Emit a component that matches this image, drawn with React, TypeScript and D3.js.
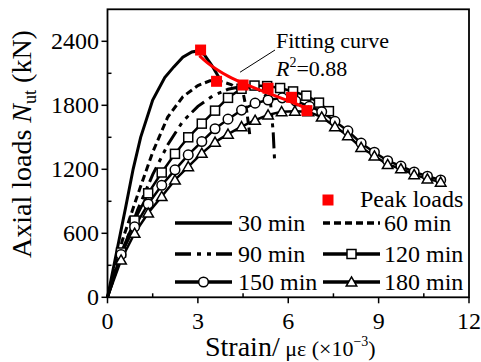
import React from "react";
import * as d3 from "d3";

const strain30 = [0, 0.3, 0.6, 0.85, 1.1, 1.5, 1.9, 2.2, 2.5, 2.8, 3.0, 3.2, 3.45, 3.7];
const load30 = [0, 420, 840, 1200, 1500, 1850, 2060, 2160, 2250, 2300, 2310, 2280, 2180, 2060];

const strain60 = [0, 0.5, 1.0, 1.5, 2.0, 2.5, 3.0, 3.4, 3.7, 4.1, 4.5, 4.62, 4.72];
const load60 = [0, 540, 960, 1360, 1690, 1880, 1985, 2030, 2030, 1995, 1920, 1750, 1530];

const strain90 = [0, 0.5, 1.0, 1.5, 2.0, 2.5, 3.0, 3.5, 4.0, 4.5, 5.0, 5.4, 5.5, 5.55];
const load90 = [0, 430, 820, 1150, 1430, 1650, 1790, 1890, 1950, 1980, 1950, 1860, 1550, 1260];

const strain120 = [0, 0.45, 0.9, 1.35, 1.8, 2.24, 2.68, 3.13, 3.57, 4.0, 4.45, 4.88, 5.3, 5.73, 6.16, 6.6, 7.02, 7.35];
const load120 = [0, 420, 720, 975, 1170, 1345, 1500, 1628, 1750, 1870, 1955, 1985, 1980, 1962, 1930, 1890, 1825, 1745];

const strain150 = [0, 0.45, 0.9, 1.35, 1.8, 2.24, 2.68, 3.13, 3.57, 4.0, 4.45, 4.9, 5.33, 5.8, 6.25, 6.7, 7.11, 7.55, 7.98, 8.42, 8.86, 9.3, 9.74, 10.18, 10.62, 11.06];
const load150 = [0, 400, 660, 875, 1050, 1195, 1335, 1460, 1580, 1670, 1755, 1820, 1850, 1870, 1840, 1790, 1740, 1650, 1560, 1445, 1360, 1280, 1230, 1175, 1135, 1100];

const strain180 = [0, 0.45, 0.9, 1.35, 1.8, 2.24, 2.68, 3.13, 3.57, 4.0, 4.45, 4.9, 5.33, 5.78, 6.22, 6.67, 7.11, 7.55, 7.98, 8.42, 8.86, 9.3, 9.74, 10.18, 10.62, 11.06];
const load180 = [0, 350, 600, 790, 945, 1100, 1225, 1350, 1455, 1530, 1600, 1660, 1710, 1740, 1745, 1740, 1690, 1600, 1515, 1405, 1325, 1245, 1205, 1150, 1110, 1080];

const peakStrain = [3.09, 3.62, 4.5, 5.33, 6.11, 6.62];
const peakLoad = [2318, 2025, 1990, 1960, 1875, 1750];

const fitStrain = [3.05, 3.3, 3.6, 4.0, 4.5, 5.3, 6.0, 6.72];
const fitLoad = [2265, 2200, 2140, 2070, 2005, 1915, 1845, 1760];

const xTicks = [0, 3, 6, 9, 12];
const xMinor = [1.5, 4.5, 7.5, 10.5];
const yTicks = [0, 600, 1200, 1800, 2400];
const yMinor = [300, 900, 1500, 2100];

const legendLabels = ["30 min", "60 min", "90 min", "120 min", "150 min", "180 min"];

const FONT = "Liberation Serif, Times New Roman, Times, serif";

export default function App() {
  const x = d3.scaleLinear().domain([0, 12]).range([107.5, 469]);
  const y = d3.scaleLinear().domain([0, 2700]).range([297.3, 9.3]);
  const zip = (a: number[], b: number[]) => a.map((v, i) => [v, b[i]] as [number, number]);
  const line = d3.line<[number, number]>().x((d) => x(d[0])).y((d) => y(d[1])).curve(d3.curveBasis);
  const lineLin = d3.line<[number, number]>().x((d) => x(d[0])).y((d) => y(d[1]));
  const tri = d3.symbol(d3.symbolTriangle, 48)() as string;

  const d30 = zip(strain30, load30);
  const d60 = zip(strain60, load60);
  const d90 = zip(strain90, load90);
  const d120 = zip(strain120, load120);
  const d150 = zip(strain150, load150);
  const d180 = zip(strain180, load180);
  const dPeak = zip(peakStrain, peakLoad);
  const dFit = zip(fitStrain, fitLoad);

  const dash60 = "7,4";
  const dash90 = "16,6,4,6,4,5";

  const sq = (cx: number, cy: number, s: number, key: any, fill = "#fff") => (
    <rect key={key} x={cx - s / 2} y={cy - s / 2} width={s} height={s} fill={fill} stroke="#000" strokeWidth={fill === "#fff" ? 1.5 : 0} />
  );

  const legRows = [223, 254, 282];
  const legL = [175, 232, 238];
  const legR = [323, 380, 384];

  return (
    <div style={{ position: "fixed", left: 0, top: 0 }}>
      <svg width={481} height={362} style={{ display: "block", background: "#fff", fontFamily: FONT }}>
        {/* curves */}
        <g fill="none" stroke="#000" strokeWidth={3}>
          <path d={lineLin(d30) as string} />
          <path d={lineLin(d60) as string} strokeDasharray={dash60} />
          <path d={lineLin(d90) as string} strokeDasharray={dash90} />
          <path d={lineLin(d120) as string} strokeWidth={2.5} />
          <path d={lineLin(d150) as string} strokeWidth={2.5} />
          <path d={lineLin(d180) as string} strokeWidth={2.5} />
        </g>
        {/* markers */}
        <g>
          {d120.slice(1).map((d, i) => sq(x(d[0]), y(d[1]), 9, "s" + i))}
          {d150.slice(1).map((d, i) => (
            <circle key={"c" + i} cx={x(d[0])} cy={y(d[1])} r={4.8} fill="#fff" stroke="#000" strokeWidth={1.5} />
          ))}
          {d180.slice(1).map((d, i) => (
            <path key={"t" + i} d={tri} transform={`translate(${x(d[0])},${y(d[1]) + 1})`} fill="#fff" stroke="#000" strokeWidth={1.5} />
          ))}
        </g>
        {/* fit */}
        <path d={line(dFit) as string} fill="none" stroke="#ff0000" strokeWidth={3} />
        {dPeak.map((d, i) => sq(x(d[0]), y(d[1]), 11, "p" + i, "#ff0000"))}
        {/* fit label */}
        <line x1={x(4.4)} y1={y(2110)} x2={275} y2={50} stroke="#000" strokeWidth={1} />
        <text x={276} y={48} fontSize={22} fill="#000">Fitting curve</text>
        <text x={276} y={76} fontSize={22} fill="#000">
          <tspan fontStyle="italic">R</tspan>
          <tspan fontSize={14} dy={-9}>2</tspan>
          <tspan dy={9}>=0.88</tspan>
        </text>

        {/* legend */}
        {sq(328, 200, 11, "lp", "#ff0000")}
        <text x={360} y={207} fontSize={24}>Peak loads</text>
        <g stroke="#000" strokeWidth={3.5} fill="none">
          <line x1={legL[0]} x2={legL[1]} y1={legRows[0]} y2={legRows[0]} />
          <line x1={legR[0]} x2={legR[1]} y1={legRows[0]} y2={legRows[0]} strokeDasharray={dash60} />
          <line x1={legL[0]} x2={legL[1]} y1={legRows[1]} y2={legRows[1]} strokeDasharray={dash90} />
          <line x1={legR[0]} x2={legR[1]} y1={legRows[1]} y2={legRows[1]} />
          <line x1={legL[0]} x2={legL[1]} y1={legRows[2]} y2={legRows[2]} />
          <line x1={legR[0]} x2={legR[1]} y1={legRows[2]} y2={legRows[2]} />
        </g>
        {sq((legR[0] + legR[1]) / 2, legRows[1], 9, "ls")}
        <circle cx={(legL[0] + legL[1]) / 2} cy={legRows[2]} r={4.8} fill="#fff" stroke="#000" strokeWidth={1.5} />
        <path d={tri} transform={`translate(${(legR[0] + legR[1]) / 2},${legRows[2] + 1})`} fill="#fff" stroke="#000" strokeWidth={1.5} />
        <g fontSize={24} fill="#000">
          <text x={legL[2]} y={legRows[0] + 8}>{legendLabels[0]}</text>
          <text x={legR[2]} y={legRows[0] + 8}>{legendLabels[1]}</text>
          <text x={legL[2]} y={legRows[1] + 8}>{legendLabels[2]}</text>
          <text x={legR[2]} y={legRows[1] + 8}>{legendLabels[3]}</text>
          <text x={legL[2]} y={legRows[2] + 8}>{legendLabels[4]}</text>
          <text x={legR[2]} y={legRows[2] + 8}>{legendLabels[5]}</text>
        </g>

        {/* frame */}
        <rect x={x(0)} y={y(2700)} width={x(12) - x(0)} height={y(0) - y(2700)} fill="none" stroke="#000" strokeWidth={1.8} />
        {/* ticks */}
        <g stroke="#000" strokeWidth={1.5}>
          {xTicks.map((t) => (
            <line key={"xt" + t} x1={x(t)} x2={x(t)} y1={y(0)} y2={y(0) + 6} />
          ))}
          {xMinor.map((t) => (
            <line key={"xm" + t} x1={x(t)} x2={x(t)} y1={y(0)} y2={y(0) - 4} />
          ))}
          {yTicks.map((t) => (
            <line key={"yt" + t} x1={x(0) - 6} x2={x(0)} y1={y(t)} y2={y(t)} />
          ))}
          {yMinor.map((t) => (
            <line key={"ym" + t} x1={x(0)} x2={x(0) + 4} y1={y(t)} y2={y(t)} />
          ))}
        </g>
        <g fontSize={24} fill="#000">
          {xTicks.map((t) => (
            <text key={"xl" + t} x={x(t)} y={329} textAnchor="middle">{t}</text>
          ))}
          {yTicks.map((t) => (
            <text key={"yl" + t} x={99} y={y(t) + 8} textAnchor="end">{t}</text>
          ))}
        </g>
        {/* axis titles */}
        <text x={205} y={356} fontSize={28}>
          Strain/<tspan fontSize={22}> με (×10</tspan><tspan fontSize={14} dy={-10}>−3</tspan><tspan fontSize={22} dy={10}>)</tspan>
        </text>
        <text transform="translate(31,144) rotate(-90)" textAnchor="middle" fontSize={28}>
          Axial loads <tspan fontStyle="italic">N</tspan><tspan fontSize={18} dy={5}>ut</tspan><tspan dy={-5}> (kN)</tspan>
        </text>
      </svg>
    </div>
  );
}
